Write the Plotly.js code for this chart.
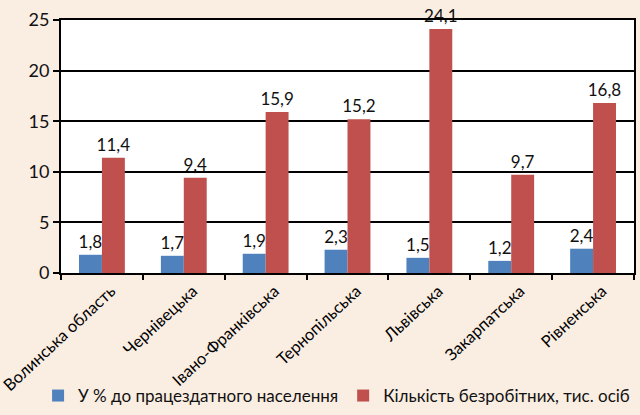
<!DOCTYPE html>
<html><head><meta charset="utf-8">
<script src="https://cdn.plot.ly/plotly-3.0.1.min.js"></script>
<style>html,body{margin:0;padding:0;background:#FAEDE2;}#c{width:640px;height:415px;}</style>
</head><body><div id="c"></div>
<script>
const categories = ["Волинська область","Чернівецька","Івано-Франківська","Тернопільська","Львівська","Закарпатська","Рівненська"];
const seriesNames = ["У % до працездатного населення","Кількість безробітних, тис. осіб"];
const percentValues = [1.8,1.7,1.9,2.3,1.5,1.2,2.4];
const countValues = [11.4,9.4,15.9,15.2,24.1,9.7,16.8];
const yTicks = [0,5,10,15,20,25];

const fmt = v => v.toFixed(1).replace('.', ',');
const font = "Lato, Noto Sans, sans-serif";

const traces = [
  {type:'bar', name:seriesNames[0], x:categories, y:percentValues, marker:{color:'#4F81BD'},
   text:percentValues.map(fmt), textposition:'outside', cliponaxis:false, constraintext:'none', textfont:{size:17,color:'#111'}},
  {type:'bar', name:seriesNames[1], x:categories, y:countValues, marker:{color:'#C0504D'},
   text:countValues.map(fmt), textposition:'outside', cliponaxis:false, constraintext:'none', textfont:{size:17,color:'#111'}}
];
const layout = {
  width:640, height:415,
  paper_bgcolor:'#FAEDE2', plot_bgcolor:'#FFFFFF',
  font:{family:font, size:16, color:'#111'},
  margin:{l:61, r:6, t:20, b:142, autoexpand:false},
  barmode:'group', bargap:0.44, bargroupgap:0,
  showlegend:true,
  legend:{orientation:'h', x:-0.04, xanchor:'left', y:-0.415, yanchor:'top',
          font:{size:17}, bgcolor:'rgba(0,0,0,0)', itemwidth:30, tracegroupgap:0},
  xaxis:{type:'category', tickangle:-43, showline:true, linecolor:'#000', linewidth:2, mirror:true, automargin:false,
         ticks:'outside', tickson:'boundaries', ticklen:5, tickcolor:'#000', tickwidth:2, showgrid:false,
         ticklabelshift:9, tickfont:{size:16.5, color:'#000'}},
  yaxis:{range:[0,25], tickvals:yTicks, ticktext:yTicks.map(String), showline:true, linecolor:'#000', linewidth:2, mirror:true,
         automargin:false, ticks:'outside', ticklen:6, tickcolor:'#000', tickwidth:2, showgrid:true, gridcolor:'#000', gridwidth:2,
         zeroline:false, tickfont:{size:18}}
};
Plotly.newPlot('c', traces, layout, {displayModeBar:false, staticPlot:true});
</script></body></html>
